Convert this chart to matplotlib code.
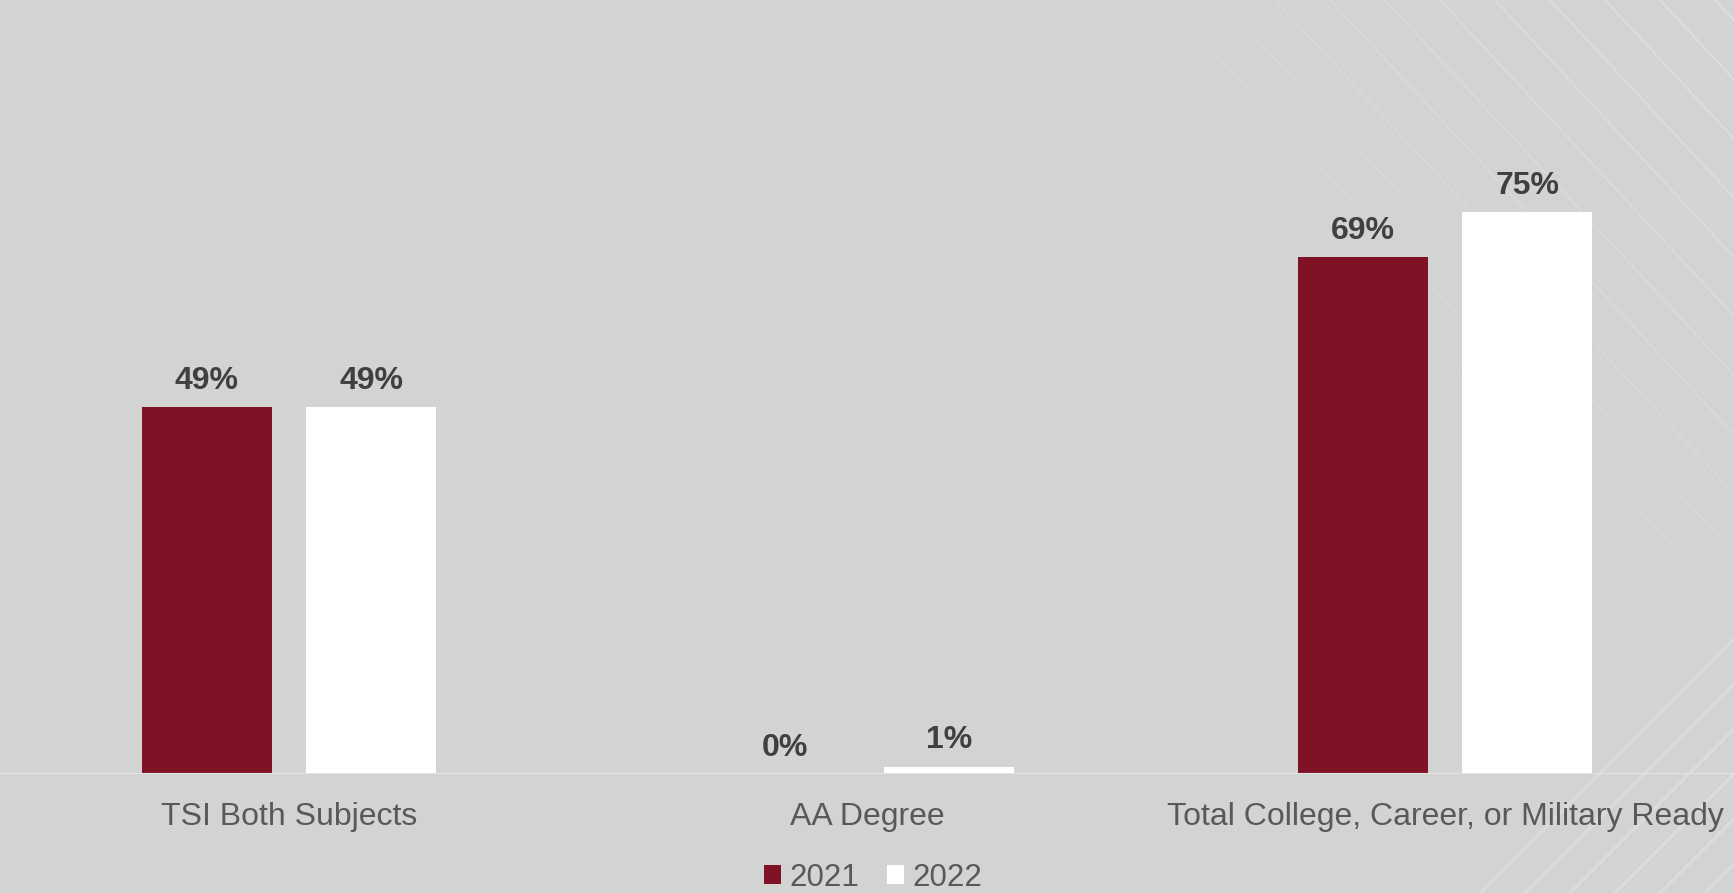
import matplotlib

matplotlib.use("Agg")

import matplotlib.pyplot as plt
import numpy as np
from matplotlib.patches import Patch

categories = ["TSI Both Subjects", "AA Degree", "Total College, Career, or Military Ready"]
years = ["2021", "2022"]
values_2021 = [49, 0, 69]
values_2022 = [49, 1, 75]

colors = ["#7f1224", "#ffffff"]
bg = "#d2d4d3"
label_color = "#404040"
text_color = "#595959"

plt.rcParams["font.family"] = ["Liberation Sans", "DejaVu Sans"]

W, H = 1734, 893
fig = plt.figure(figsize=(W / 100, H / 100), dpi=100, facecolor=bg)

# faint diagonal texture in the background (slide decoration)
deco = fig.add_axes([0, 0, 1, 1], zorder=0)
deco.set_xlim(0, W)
deco.set_ylim(H, 0)
deco.axis("off")
for x0 in np.arange(1000, W + 200, 55):
    a = min(0.28, 0.05 + (x0 - 1000) / 3000)
    deco.plot([x0, x0 + H * 0.93], [0, H], color="white", lw=1.2, alpha=a)
for x0 in np.arange(1480, W + 500, 45):
    deco.plot([x0, x0 + 480], [H, H - 480], color="white", lw=2.5, alpha=0.18)

ax = fig.add_axes([0, 1 - 774 / H, 1, 774 / H], zorder=1)
ax.set_facecolor("none")

x = np.arange(len(categories))
width = 0.2245
offset = 0.1425
for vals, off, color, year in zip([values_2021, values_2022], [-offset, offset], colors, years):
    bars = ax.bar(x + off, vals, width=width, color=color, label=year, zorder=2)
    for rect, v in zip(bars, vals):
        ax.annotate(
            f"{v}%",
            (rect.get_x() + rect.get_width() / 2, rect.get_height()),
            xytext=(0, 13),
            textcoords="offset points",
            ha="center",
            va="baseline",
            fontsize=23,
            fontweight="bold",
            color=label_color,
        )

ax.set_xlim(-0.5, len(categories) - 0.5)
ax.set_ylim(0, 103.3)
ax.axhline(0, color="#e4e4e4", linewidth=1.5, zorder=3)
for s in ax.spines.values():
    s.set_visible(False)
ax.set_yticks([])
ax.set_xticks(x, categories)
ax.tick_params(axis="x", length=0, pad=20, labelsize=23, labelcolor=text_color)

handles = [Patch(facecolor=c, edgecolor="none") for c in colors]
fig.legend(
    handles,
    years,
    loc="lower center",
    bbox_to_anchor=(0.5035, -0.024),
    ncol=2,
    frameon=False,
    fontsize=22.5,
    labelcolor=text_color,
    handlelength=0.55,
    handleheight=0.55,
    handletextpad=0.25,
    columnspacing=0.9,
    borderaxespad=0.3,
)

fig.savefig("out.png", dpi=100, facecolor=bg)
